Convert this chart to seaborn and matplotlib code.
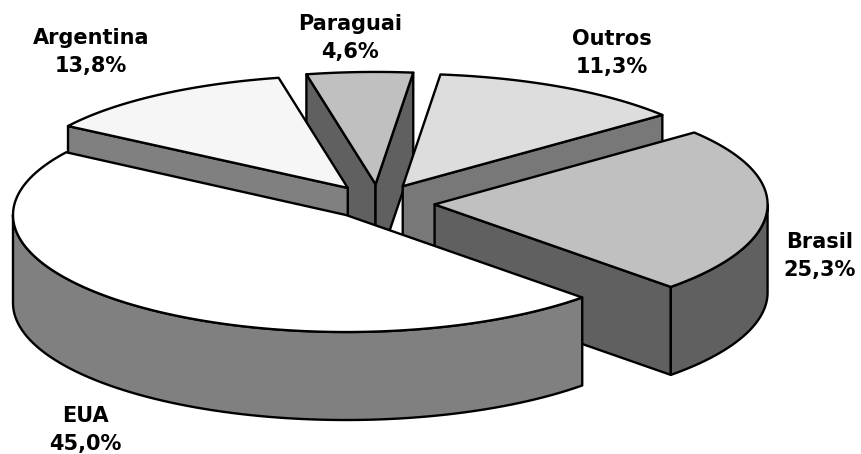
import numpy as np
import matplotlib
matplotlib.use("Agg")
import matplotlib.pyplot as plt
from matplotlib.patches import Polygon
import seaborn as sns

# clockwise from the top, the order the pie was built in
countries = ["Paraguai", "Outros", "Brasil", "EUA", "Argentina"]
shares = [4.6, 11.3, 25.3, 45.0, 13.8]

top_colors = ["#C0C0C0", "#DDDDDD", "#C0C0C0", "#FFFFFF", "#F6F6F6"]
wall_colors = ["#606060", "#787878", "#606060", "#808080", "#808080"]
label_pos = [(350, 38), (612, 53), (820, 256), (85, 430), (91, 52)]
draw_order = [0, 4, 1, 2, 3]

# pie shape in pixels
cx, cy = 378, 204
rx, ry = 333, 117
depth = 88
explode = 0.17
explode_left = 0.155
explode_near = 0.12
start_angle = -11.0

sns.set_theme(style="white")
plt.rcParams["font.family"] = ["DejaVu Sans"]


def warp(theta):
    # the old 3D pie does not keep angles exact, this bends them the same way
    t = np.radians(theta)
    return (theta + 5.3 - 5.9 * np.sin(t) - 3.9 * np.cos(t)
            + 6.6 * np.sin(2 * t) - 1.2 * np.cos(2 * t))


def plan_to_screen(theta, r, off):
    # theta in degrees, clockwise from north
    t = np.radians(theta)
    x = cx + rx * (off[0] + r * np.sin(t))
    yy = off[1] + r * np.cos(t)
    yy = np.where(yy > 0, yy - 0.03 * yy ** 2, yy)
    y = cy - ry * yy
    return np.column_stack([np.atleast_1d(x), np.atleast_1d(y)])


def add_poly(ax, pts, color, z):
    ax.add_patch(Polygon(pts, closed=True, facecolor=color, edgecolor="black",
                         linewidth=1.7, joinstyle="round", zorder=z))


def draw_slice(ax, a1, a2, top, wall, z):
    mid = np.radians((a1 + a2) / 2)
    ox, oy = np.sin(mid), np.cos(mid)
    off = ((explode if ox > 0 else explode_left) * ox,
           (explode if oy > 0 else explode_near) * oy)
    apex = plan_to_screen(0, 0, off)
    drop = np.array([0, depth])
    a1, a2 = warp(a1), warp(a2)

    # radial walls, only the ones that face us
    for a, facing in [(a1, np.sin(np.radians(a1)) < 0), (a2, np.sin(np.radians(a2)) > 0)]:
        if facing:
            rim = plan_to_screen(a, 1, off)
            add_poly(ax, np.vstack([apex, rim, rim + drop, apex + drop]), wall, z)

    # outer wall, front half of the circle only
    lo, hi = max(a1, 90), min(a2, 270)
    if hi > lo:
        arc = plan_to_screen(np.linspace(lo, hi, 80), 1, off)
        add_poly(ax, np.vstack([arc, (arc + drop)[::-1]]), wall, z)

    arc = plan_to_screen(np.linspace(a1, a2, 120), 1, off)
    add_poly(ax, np.vstack([apex, arc]), top, z)


fig = plt.figure(figsize=(8.61, 4.54), dpi=100)
ax = fig.add_axes([0, 0, 1, 1])
ax.set_xlim(0, 861)
ax.set_ylim(454, 0)
ax.set_axis_off()

edges = start_angle + np.concatenate([[0], np.cumsum(shares)]) * 3.6
for z, i in enumerate(draw_order):
    draw_slice(ax, edges[i], edges[i + 1], top_colors[i], wall_colors[i], z + 1)

for name, share, pos in zip(countries, shares, label_pos):
    txt = f"{name}\n{share:.1f}%".replace(".", ",")
    ax.text(pos[0], pos[1], txt, ha="center", va="center", fontsize=15,
            fontweight="bold", color="black", linespacing=1.45, zorder=10)

fig.savefig("out.png", dpi=100)
